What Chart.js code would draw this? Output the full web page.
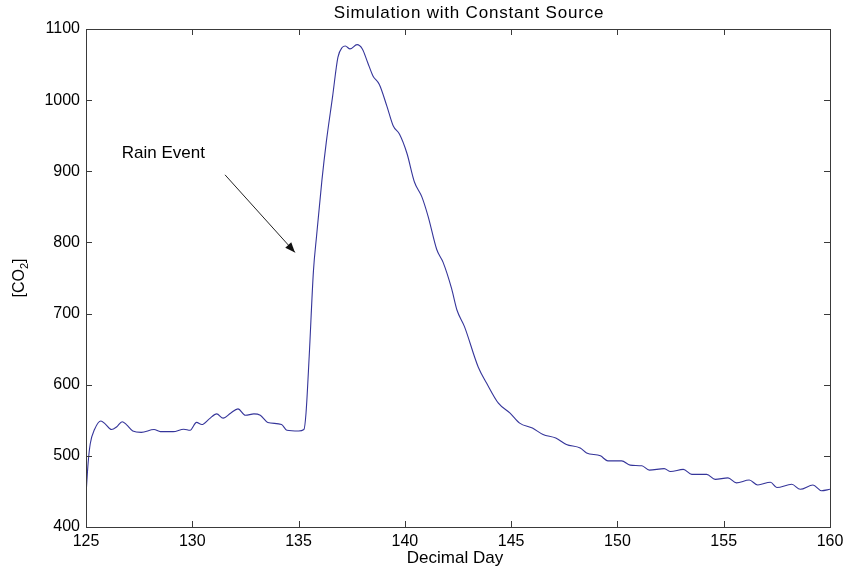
<!DOCTYPE html>
<html>
<head>
<meta charset="utf-8">
<script src="https://cdn.jsdelivr.net/npm/chart.js@4"></script>
<style>
    html, body { margin: 0; padding: 0; background: #fff; }
    #wrap { width: 844px; height: 569px; }
</style>
</head>
<body>
<div id="wrap"><canvas id="co2Chart" width="844" height="569"></canvas></div>
<script>
// --- Data ---

const days = [
    125.0, 125.1, 125.2, 125.4, 125.7, 125.9, 126.2, 126.45, 126.7, 126.9,
    127.2, 127.6, 128.2, 128.5, 129.1, 129.6, 129.9, 130.2, 130.45, 130.8,
    131.15, 131.45, 131.8, 132.15, 132.5, 132.9, 133.2, 133.55, 134.2, 134.45,
    135.0, 135.25, 135.35, 135.5, 135.7, 135.85, 136.1, 136.3, 136.6, 136.85,
    137.05, 137.2, 137.42, 137.75, 138.0, 138.25, 138.5, 138.8, 139.15, 139.45,
    139.75, 140.1, 140.45, 140.8, 141.1, 141.5, 141.8, 142.2, 142.45, 142.8,
    143.45, 143.85, 144.4, 144.95, 145.4, 146.0, 146.5, 147.1, 147.6, 148.25,
    148.55, 149.2, 149.55, 150.2, 150.6, 151.15, 151.5, 152.2, 152.5, 153.1,
    153.5, 154.2, 154.6, 155.2, 155.6, 156.2, 156.6, 157.2, 157.5, 158.2,
    158.6, 159.2, 159.6, 160.0,
];

const co2 = [
    445, 490, 517, 537, 549, 545, 537, 541, 548, 544,
    535, 533, 537, 534, 534, 537.5, 536, 547, 544, 552,
    559, 553, 560, 566, 557, 559, 557, 547, 544, 536,
    535, 537, 560, 640, 760, 810, 888, 940, 1005, 1060,
    1074, 1076, 1072, 1078, 1072, 1053, 1034, 1022, 992, 964,
    952, 925, 885, 864, 836, 790, 772, 735, 705, 682,
    625, 602, 574, 560, 546, 539, 530, 525, 516, 511,
    504, 500, 493, 493, 487, 486, 480, 482, 478, 481,
    474, 474, 467, 469, 462, 466, 459, 463, 455.5, 460,
    453, 459, 451, 453,
];

const xTicks = [125, 130, 135, 140, 145, 150, 155, 160];
const yTicks = [400, 500, 600, 700, 800, 900, 1000, 1100];

const titleText = 'Simulation with Constant Source';
const xLabel = 'Decimal Day';
const noteText = 'Rain Event';
const noteAt = { x: 126.68, y: 925 };
const arrowFrom = { x: 131.54, y: 895 };
const arrowTo = { x: 134.83, y: 786 };

const FONT = '"Liberation Sans", Arial, sans-serif';
const AXIS_COLOR = '#3a3a3a';
const LINE_COLOR = '#35359a';

// --- Box, inward ticks, labels and annotation (MATLAB look) ---

const matlabFrame = {
    id: 'matlabFrame',
    afterDraw(chart) {
        const { ctx, chartArea: a, scales: { x, y } } = chart;
        const tick = 6;
        ctx.save();
        ctx.strokeStyle = AXIS_COLOR;
        ctx.lineWidth = 1;
        ctx.strokeRect(a.left + 0.5, a.top + 0.5, a.right - a.left, a.bottom - a.top);

        ctx.beginPath();
        xTicks.forEach(v => {
            const px = Math.round(x.getPixelForValue(v)) + 0.5;
            ctx.moveTo(px, a.bottom); ctx.lineTo(px, a.bottom - tick);
            ctx.moveTo(px, a.top); ctx.lineTo(px, a.top + tick);
        });
        yTicks.forEach(v => {
            const py = Math.round(y.getPixelForValue(v)) + 0.5;
            ctx.moveTo(a.left, py); ctx.lineTo(a.left + tick, py);
            ctx.moveTo(a.right, py); ctx.lineTo(a.right - tick, py);
        });
        ctx.stroke();

        ctx.fillStyle = '#000';
        ctx.textAlign = 'center';
        ctx.textBaseline = 'middle';
        ctx.font = `17px ${FONT}`;
        ctx.letterSpacing = '0.8px';
        ctx.fillText(titleText, 469, 13);
        ctx.letterSpacing = '0px';
        ctx.font = `17px ${FONT}`;
        ctx.fillText(xLabel, 455, 558);

        // y label: [CO2] with subscript
        ctx.save();
        ctx.translate(20, (a.top + a.bottom) / 2);
        ctx.rotate(-Math.PI / 2);
        ctx.textAlign = 'left';
        const p1 = '[CO', p3 = ']';
        ctx.font = `16px ${FONT}`;
        const w1 = ctx.measureText(p1).width;
        ctx.font = `11px ${FONT}`;
        const w2 = ctx.measureText('2').width;
        ctx.font = `16px ${FONT}`;
        const w3 = ctx.measureText(p3).width;
        const sx = -(w1 + w2 + w3) / 2;
        ctx.fillText(p1, sx, 0);
        ctx.font = `11px ${FONT}`;
        ctx.fillText('2', sx + w1, 5);
        ctx.font = `16px ${FONT}`;
        ctx.fillText(p3, sx + w1 + w2, 0);
        ctx.restore();

        // annotation
        ctx.textAlign = 'left';
        ctx.font = `17px ${FONT}`;
        ctx.fillText(noteText, x.getPixelForValue(noteAt.x), y.getPixelForValue(noteAt.y));

        const x0 = x.getPixelForValue(arrowFrom.x), y0 = y.getPixelForValue(arrowFrom.y);
        const x1 = x.getPixelForValue(arrowTo.x), y1 = y.getPixelForValue(arrowTo.y);
        ctx.strokeStyle = '#222';
        ctx.beginPath();
        ctx.moveTo(x0, y0); ctx.lineTo(x1, y1);
        ctx.stroke();
        const ang = Math.atan2(y1 - y0, x1 - x0);
        const hl = 10, hw = 4;
        ctx.fillStyle = '#111';
        ctx.beginPath();
        ctx.moveTo(x1, y1);
        ctx.lineTo(x1 - hl * Math.cos(ang) + hw * Math.sin(ang), y1 - hl * Math.sin(ang) - hw * Math.cos(ang));
        ctx.lineTo(x1 - hl * Math.cos(ang) - hw * Math.sin(ang), y1 - hl * Math.sin(ang) + hw * Math.cos(ang));
        ctx.closePath();
        ctx.fill();
        ctx.restore();
    },
};

const ctx = document.getElementById('co2Chart').getContext('2d');

new Chart(ctx, {
    type: 'line',
    data: {
        datasets: [{
            data: days.map((d, i) => ({ x: d, y: co2[i] })),
            borderColor: LINE_COLOR,
            borderWidth: 1.1,
            pointRadius: 0,
            fill: false,
            cubicInterpolationMode: 'monotone',
        }],
    },
    options: {
        responsive: false,
        animation: false,
        layout: { padding: { top: 29, right: 14, left: 0, bottom: 0 } },
        plugins: { legend: { display: false }, tooltip: { enabled: false } },
        scales: {
            x: {
                type: 'linear',
                min: 125,
                max: 160,
                afterBuildTicks: s => { s.ticks = xTicks.map(v => ({ value: v })); },
                afterFit: s => { s.height = 42; s.paddingLeft = 0; s.paddingRight = 0; },
                grid: { display: false, drawTicks: false },
                border: { display: false },
                ticks: { color: '#000', font: { family: FONT, size: 16 }, padding: 5, maxRotation: 0, callback: v => String(v) },
            },
            y: {
                min: 400,
                max: 1100,
                afterBuildTicks: s => { s.ticks = yTicks.map(v => ({ value: v })); },
                afterFit: s => { s.width = 86; s.paddingTop = 0; s.paddingBottom = 0; },
                grid: { display: false, drawTicks: false },
                border: { display: false },
                ticks: { color: '#000', font: { family: FONT, size: 16 }, padding: 6, callback: v => String(v) },
            },
        },
    },
    plugins: [matlabFrame],
});
</script>
</body>
</html>
